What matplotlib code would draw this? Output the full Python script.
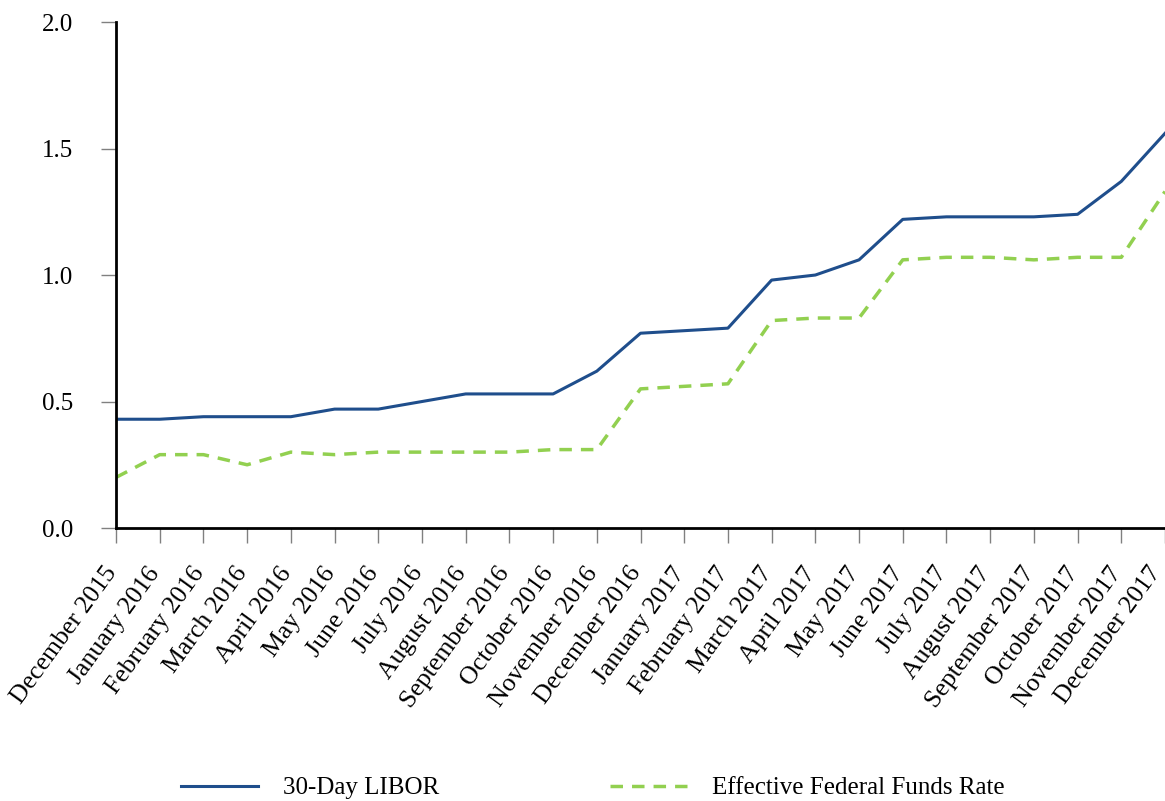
import matplotlib
matplotlib.use("Agg")
import matplotlib.pyplot as plt
from matplotlib.transforms import ScaledTranslation

plt.rcParams['font.family'] = ['Liberation Serif', 'DejaVu Serif']

# --- data ---
months = ["December 2015", "January 2016", "February 2016", "March 2016", "April 2016",
          "May 2016", "June 2016", "July 2016", "August 2016", "September 2016",
          "October 2016", "November 2016", "December 2016", "January 2017", "February 2017",
          "March 2017", "April 2017", "May 2017", "June 2017", "July 2017", "August 2017",
          "September 2017", "October 2017", "November 2017", "December 2017"]
libor = [0.43, 0.43, 0.44, 0.44, 0.44, 0.47, 0.47, 0.50, 0.53, 0.53, 0.53, 0.62, 0.77,
         0.78, 0.79, 0.98, 1.00, 1.06, 1.22, 1.23, 1.23, 1.23, 1.24, 1.37, 1.56]
effr = [0.20, 0.29, 0.29, 0.25, 0.30, 0.29, 0.30, 0.30, 0.30, 0.30, 0.31, 0.31, 0.55,
        0.56, 0.57, 0.82, 0.83, 0.83, 1.06, 1.07, 1.07, 1.06, 1.07, 1.07, 1.33]
yticks = [0.0, 0.5, 1.0, 1.5, 2.0]

fig = plt.figure(figsize=(11.65, 8.01), dpi=100)
ax = fig.add_axes([0.0996, 0.3408, 0.9004, 0.6317])

x = list(range(len(months)))
ax.plot(x, libor, color="#1f4e8c", lw=2.2, label="30-Day LIBOR")
ax.plot(x, effr, color="#92d050", lw=2.5, ls=(0, (3.6, 2.6)), label="Effective Federal Funds Rate")

ax.set_xlim(0, len(months) - 1)
ax.set_ylim(0, 2.0)
ax.set_yticks(yticks)
ax.set_yticklabels([f"{v:.1f}" for v in yticks], fontsize=18)
ax.set_xticks(x)
ax.set_xticklabels(months, rotation=54, ha="right", fontsize=18.5)

for s in ["top", "right"]:
    ax.spines[s].set_visible(False)
for s in ["left", "bottom"]:
    ax.spines[s].set_linewidth(2)
    ax.spines[s].set_color("black")
ax.tick_params(axis="both", direction="out", length=11, width=1, color="#808080")
ax.tick_params(axis="y", pad=20)
ax.tick_params(axis="x", pad=14)

# nudge the rotated month labels a bit to the right (after tick_params, which resets transforms);
# the last one stays put so it doesn't run off the figure edge
shift = ScaledTranslation(5 / 100, 0, fig.dpi_scale_trans)
for lbl in ax.get_xticklabels()[:-1]:
    lbl.set_transform(lbl.get_transform() + shift)

fig.legend(loc="lower left", bbox_to_anchor=(0.136, -0.026), ncol=2, frameon=False,
           fontsize=18, handlelength=3.1, handletextpad=1.0, columnspacing=6.8)

fig.savefig("out.png", dpi=100)
